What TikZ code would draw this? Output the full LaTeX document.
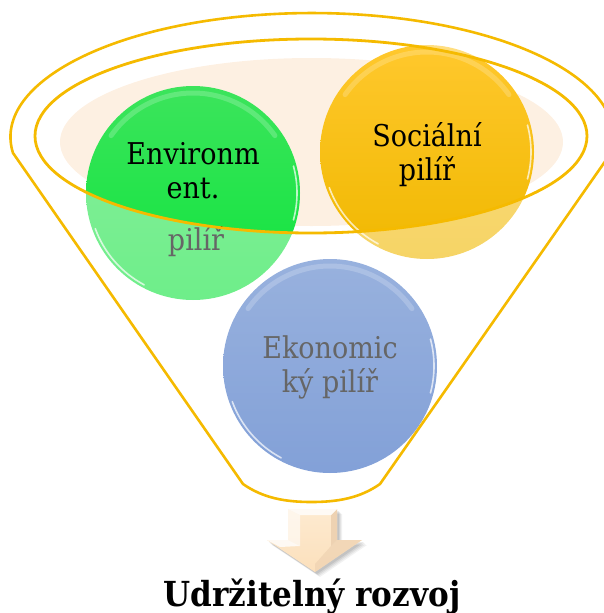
\documentclass[tikz,border=0pt]{standalone}
\usepackage{fontspec}
\setmainfont{DejaVu Serif Condensed}
\begin{document}
\begin{tikzpicture}[x=1pt,y=-1pt]
\definecolor{rim}{RGB}{245,186,0}
\definecolor{beige}{RGB}{253,240,226}
\definecolor{gtop}{RGB}{60,228,92}
\definecolor{gbot}{RGB}{14,228,60}
\definecolor{ytop}{RGB}{255,200,45}
\definecolor{ybot}{RGB}{240,184,0}
\definecolor{btop}{RGB}{84,126,200}
\definecolor{bbot}{RGB}{48,98,190}
\definecolor{atop}{RGB}{253,234,208}
\definecolor{abot}{RGB}{252,224,188}
\definecolor{aside}{RGB}{238,210,178}
\tikzset{
  pillar/.style={circle, minimum size=214pt, inner sep=0pt},
  pillartext/.style={align=center, anchor=base, text=black,
    font=\fontsize{30}{34}\selectfont},
  gloss/.style={white, line width=1.6pt, opacity=0.7, line cap=round},
  softgloss/.style={white, line width=5pt, opacity=0.2, line cap=round},
  rimline/.style={draw=rim, line width=2.6pt},
}
\useasboundingbox (0,0) rectangle (604,613);
\def\funnel{(13,153) arc[start angle=172.6, end angle=367.4, x radius=301.5, y radius=124]
  -- (380,484) .. controls (360,498) and (338,502) .. (311.5,502)
  .. controls (285,502) and (263,498) .. (243,484) -- cycle}
% back liquid surface
\fill[beige] (311.5,142) ellipse [x radius=251.5, y radius=84];
% pillars
\node[pillar, top color=gtop, bottom color=gbot] (env) at (193,193) {};
\node[pillar, top color=ytop, bottom color=ybot] (soc) at (427,152) {};
\node[pillar, top color=btop, bottom color=bbot] (eko) at (330,366) {};
\foreach \n in {env,soc,eko}{
  \draw[gloss] ([shift={(118:104)}]\n.center) arc[start angle=118, end angle=160, radius=104];
  \draw[gloss] ([shift={(-15:104)}]\n.center) arc[start angle=-15, end angle=15, radius=104];
  \draw[softgloss] ([shift={(215:100)}]\n.center) arc[start angle=215, end angle=325, radius=100];
}
\node[pillartext] (envtxt) at (193,198) {Environm\\ent.};
\node[pillartext] (envtxt2) at (196,250) {pilíř};
\node[pillartext] (soctxt) at (427,180) {Sociální\\pilíř};
\node[pillartext] (ekotxt) at (330,392) {Ekonomic\\ký pilíř};
% translucent front of the funnel
\begin{scope}
  \clip \funnel;
  \fill[white, fill opacity=0.4, even odd rule] (0,0) rectangle (620,613)
    (311,136) ellipse [x radius=276, y radius=97];
\end{scope}
% funnel outlines
\draw[rimline, line join=round] \funnel;
\draw[draw=rim, line width=2.8pt] (311,136) ellipse [x radius=276, y radius=97];
% output arrow
\foreach \d/\o in {5/0.05,4/0.06,3/0.07,2/0.08}{
  \fill[black, opacity=\o] (288+\d,509+\d) -- (337+\d,509+\d) -- (337+\d,540+\d) -- (362+\d,540+\d)
    -- (315+\d,572+\d) -- (267+\d,540+\d) -- (288+\d,540+\d) -- cycle;
}
\coordinate (atip) at (315,572);
\shade[top color=atop, bottom color=abot] (288,509) -- (337,509) -- (337,540) -- (362,540)
  -- (atip) -- (267,540) -- (288,540) -- cycle;
\fill[aside] (331,515) -- (337,509) -- (337,540) -- (331,546) -- cycle;
\fill[aside, opacity=0.7] (331,546) -- (337,540) -- (362,540) -- (atip) -- (315,564) -- cycle;
\fill[white, opacity=0.8] (288,509) -- (337,509) -- (331,515) -- (300,515) -- cycle;
\fill[white, opacity=0.6] (288,509) -- (300,515) -- (300,546) -- (288,540) -- cycle;
\fill[white, opacity=0.8] (267,540) -- (288,540) -- (300,546) -- (280,547) -- cycle;
% result
\node[font=\fontsize{34.5}{40}\selectfont\bfseries, anchor=base] (res) at (312,606) {Udržitelný rozvoj};
\end{tikzpicture}
\end{document}
